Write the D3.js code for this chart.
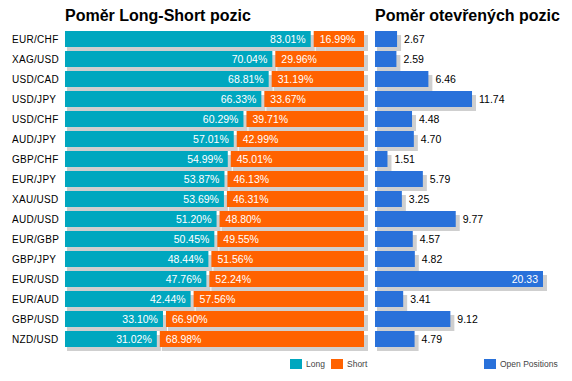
<!DOCTYPE html>
<html><head><meta charset="utf-8">
<script src="https://cdn.jsdelivr.net/npm/d3@7"></script>
<style>body{margin:0;background:#fff}svg{display:block;font-family:"Liberation Sans",Arial,sans-serif}</style>
</head><body>
<script>
const categories = ["EUR/CHF","XAG/USD","USD/CAD","USD/JPY","USD/CHF","AUD/JPY","GBP/CHF","EUR/JPY","XAU/USD","AUD/USD","EUR/GBP","GBP/JPY","EUR/USD","EUR/AUD","GBP/USD","NZD/USD"];
const longVals = [83.01,70.04,68.81,66.33,60.29,57.01,54.99,53.87,53.69,51.20,50.45,48.44,47.76,42.44,33.10,31.02];
const shortVals = [16.99,29.96,31.19,33.67,39.71,42.99,45.01,46.13,46.31,48.80,49.55,51.56,52.24,57.56,66.90,68.98];
const openVals = [2.67,2.59,6.46,11.74,4.48,4.70,1.51,5.79,3.25,9.77,4.57,4.82,20.33,3.41,9.12,4.79];
const titles = ["Poměr Long-Short pozic","Poměr otevřených pozic"];
const legendLabels = ["Long","Short","Open Positions"];

const C_LONG="#00A7BF", C_SHORT="#FF6200", C_OPEN="#2971DA", C_SH="#CFCFCF";
const W=572,H=381;
const svg=d3.select("body").append("svg").attr("width",W).attr("height",H);

const y=d3.scaleBand().domain(categories).range([31,347]).paddingInner(0.2).paddingOuter(0);
const L0=65, GAP=3;
const xL=d3.scaleLinear().domain([0,100]).range([0,296]);
const R0=375;
const xR=d3.scaleLinear().domain([0,20.33]).range([0,168]);

function shadowBar(g,x,yy,w,h,color){
  g.append("rect").attr("x",x+2).attr("y",yy+4).attr("width",w+2).attr("height",h).attr("fill",C_SH);
  g.append("rect").attr("x",x).attr("y",yy).attr("width",w).attr("height",h).attr("fill",color);
}

// titles
svg.append("text").attr("x",L0).attr("y",21).attr("font-size",16).attr("font-weight","bold").attr("fill","#000").text(titles[0]);
svg.append("text").attr("x",R0).attr("y",21).attr("font-size",16).attr("font-weight","bold").attr("fill","#000").text(titles[1]);

const gShadow=svg.append("g");
categories.forEach((c,i)=>{
  const yy=y(c), h=y.bandwidth();
  const lw=xL(longVals[i]);
  const sx=L0+lw+GAP, sw=xL(shortVals[i]);
  const rw=xR(openVals[i]);
  shadowBar(gShadow,L0,yy,lw,h,C_LONG);
  shadowBar(gShadow,sx,yy,sw,h,C_SHORT);
  shadowBar(gShadow,R0,yy,rw,h,C_OPEN);
});
const gText=svg.append("g");
categories.forEach((c,i)=>{
  const yy=y(c)+y.bandwidth()/2;
  const lw=xL(longVals[i]);
  const sx=L0+lw+GAP;
  gText.append("text").attr("x",12).attr("y",yy).attr("dy","0.35em").attr("font-size",10).attr("letter-spacing","0.3px").attr("fill","#000").text(c);
  gText.append("text").attr("x",L0+lw-5).attr("y",yy).attr("dy","0.35em").attr("text-anchor","end").attr("font-size",10.5).attr("fill","#fff").text(longVals[i].toFixed(2)+"%");
  gText.append("text").attr("x",sx+6).attr("y",yy).attr("dy","0.35em").attr("font-size",10.5).attr("fill","#fff").text(shortVals[i].toFixed(2)+"%");
  const re=R0+xR(openVals[i]);
  const inside = re+40>565;
  gText.append("text").attr("x",inside?re-5:re+7).attr("y",yy).attr("dy","0.35em")
    .attr("text-anchor",inside?"end":"start").attr("font-size",10.5).attr("fill",inside?"#fff":"#000").text(openVals[i].toFixed(2));
});

// legend
const leg=[{x:290,c:C_LONG,t:legendLabels[0]},{x:331,c:C_SHORT,t:legendLabels[1]},{x:484,c:C_OPEN,t:legendLabels[2]}];
leg.forEach(d=>{
  svg.append("rect").attr("x",d.x).attr("y",359).attr("width",12).attr("height",10).attr("fill",d.c);
  svg.append("text").attr("x",d.x+16).attr("y",364).attr("dy","0.35em").attr("font-size",8.5).attr("fill","#444").text(d.t);
});
</script>
</body></html>
